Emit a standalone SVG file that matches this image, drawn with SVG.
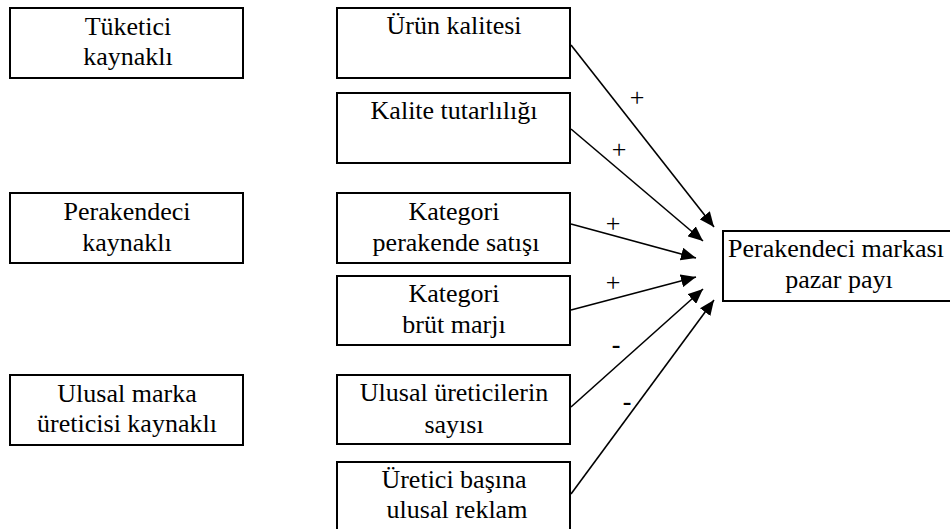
<svg xmlns="http://www.w3.org/2000/svg" width="950" height="529" viewBox="0 0 950 529">
  <style>
    .box { fill: #ffffff; stroke: #000000; stroke-width: 2; }
    .lbl { font-size: 26px; fill: #000000; text-anchor: middle; }
    .sign { font-size: 26px; fill: #000000; text-anchor: middle; }
    .edge { stroke: #000000; stroke-width: 1.6; fill: none; marker-end: url(#arrow); }
  </style>
  <defs>
    <marker id="arrow" markerUnits="userSpaceOnUse" markerWidth="16" markerHeight="13" refX="15" refY="6.5" orient="auto">
      <path d="M0,0 L15,6.5 L0,13 z" fill="#000000"/>
    </marker>
  </defs>
  <rect width="950" height="529" fill="#ffffff"/>

  <g font-family="'Liberation Serif', 'Times New Roman', 'DejaVu Serif', serif">
    <!-- source categories -->
    <g id="tuketici">
      <rect class="box" x="10" y="8" width="233" height="70"/>
      <text class="lbl" x="128" y="35">Tüketici</text>
      <text class="lbl" x="128" y="65">kaynaklı</text>
    </g>
    <g id="perakendeci">
      <rect class="box" x="10" y="193" width="233" height="70"/>
      <text class="lbl" x="127" y="220">Perakendeci</text>
      <text class="lbl" x="127" y="251">kaynaklı</text>
    </g>
    <g id="ulusal-marka">
      <rect class="box" x="10" y="375" width="233" height="70"/>
      <text class="lbl" x="127" y="402">Ulusal marka</text>
      <text class="lbl" x="127" y="432">üreticisi kaynaklı</text>
    </g>

    <!-- factors -->
    <g id="urun-kalitesi">
      <rect class="box" x="337" y="8" width="233" height="70"/>
      <text class="lbl" x="454" y="34">Ürün kalitesi</text>
    </g>
    <g id="kalite-tutarliligi">
      <rect class="box" x="337" y="93" width="233" height="70"/>
      <text class="lbl" x="454" y="119">Kalite tutarlılığı</text>
    </g>
    <g id="kategori-satis">
      <rect class="box" x="337" y="193" width="233" height="70"/>
      <text class="lbl" x="454" y="220">Kategori</text>
      <text class="lbl" x="456" y="251">perakende satışı</text>
    </g>
    <g id="kategori-marj">
      <rect class="box" x="337" y="276" width="233" height="69"/>
      <text class="lbl" x="454" y="302">Kategori</text>
      <text class="lbl" x="454" y="333">brüt marjı</text>
    </g>
    <g id="ulusal-ureticiler">
      <rect class="box" x="337" y="375" width="233" height="69"/>
      <text class="lbl" x="454" y="401">Ulusal üreticilerin</text>
      <text class="lbl" x="454" y="433">sayısı</text>
    </g>
    <g id="ulusal-reklam">
      <rect class="box" x="337" y="462" width="233" height="72"/>
      <text class="lbl" x="454" y="488">Üretici başına</text>
      <text class="lbl" x="457" y="518">ulusal reklam</text>
    </g>

    <!-- outcome -->
    <g id="pazar-payi">
      <rect class="box" x="723" y="231" width="232" height="70"/>
      <text class="lbl" x="836" y="257">Perakendeci markası</text>
      <text class="lbl" x="839" y="288">pazar payı</text>
    </g>

    <!-- effects on market share -->
    <g id="connectors">
      <line class="edge" x1="571" y1="45" x2="714" y2="227"/>
      <line class="edge" x1="571" y1="129" x2="703" y2="241"/>
      <line class="edge" x1="571" y1="224" x2="696" y2="258"/>
      <line class="edge" x1="571" y1="310" x2="696" y2="277"/>
      <line class="edge" x1="571" y1="407" x2="703" y2="289"/>
      <line class="edge" x1="571" y1="494" x2="714" y2="300"/>
      <text class="sign" x="637" y="106">+</text>
      <text class="sign" x="619" y="158">+</text>
      <text class="sign" x="613" y="232">+</text>
      <text class="sign" x="613" y="291">+</text>
      <text class="sign" x="616" y="353" font-weight="bold">-</text>
      <text class="sign" x="627" y="410" font-weight="bold">-</text>
    </g>
  </g>
</svg>
